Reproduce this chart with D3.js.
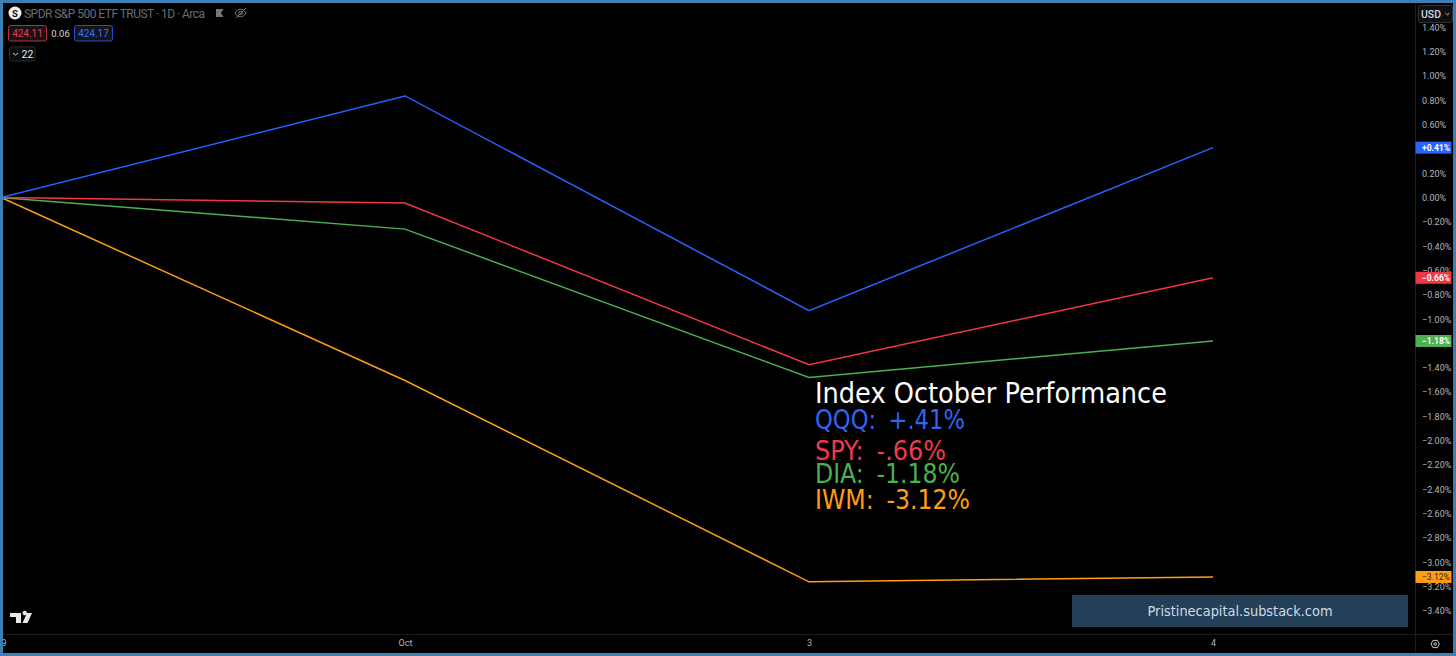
<!DOCTYPE html>
<html><head><meta charset="utf-8">
<script src="https://cdnjs.cloudflare.com/ajax/libs/d3/7.8.5/d3.min.js"></script>
<style>html,body{margin:0;padding:0;background:#000;overflow:hidden}svg{display:block}text{font-family:Roboto,sans-serif}</style>
</head><body><svg id="c" width="1456" height="656"></svg>
<script>
const categories = ["29", "Oct", "3", "4"];
const seriesNames = ["IWM", "DIA", "SPY", "QQQ"];
const iwm = [0, -1.505, -3.16, -3.12];
const dia = [0, -0.26, -1.48, -1.18];
const spy = [0, -0.045, -1.375, -0.66];
const qqq = [0, 0.835, -0.93, 0.41];
const seriesColors = ["#ff9d14", "#4caf50", "#f23645", "#2962ff"];
const priceTicks = [1.4,1.2,1.0,0.8,0.6,0.2,0,-0.2,-0.4,-0.6,-0.8,-1.0,-1.4,-1.6,-1.8,-2.0,-2.2,-2.4,-2.6,-2.8,-3.0,-3.2,-3.4];
const lastLabels = ["+0.41%", "\u22120.66%", "\u22121.18%", "\u22123.12%"];
const lastValues = [0.41, -0.66, -1.18, -3.12];
const lastColors = ["#2962ff", "#f23645", "#4caf50", "#ff9d14"];
const legendTitle = "Index October Performance";
const legendRows = ["QQQ: +.41%", "SPY: -.66%", "DIA: -1.18%", "IWM: -3.12%"];
const legendColors = ["#2f66f0", "#ef3a4c", "#4caf50", "#ff9d14"];
const headerTitle = "SPDR S&P 500 ETF TRUST \u00b7 1D \u00b7 Arca";
const footerText = "Pristinecapital.substack.com";

const svg = d3.select("#c");
const x = d3.scalePoint().domain(categories).range([1, 1213]);
const y = d3.scaleLinear().domain([0, -3.4]).range([197.5, 611]);
const defs = svg.append("defs");
defs.append("clipPath").attr("id","pane").append("rect").attr("x",3).attr("y",3).attr("width",1450).attr("height",650);

const root = svg.append("g").attr("clip-path","url(#pane)");
root.append("rect").attr("width",1456).attr("height",656).attr("fill","#000");

// pane separators
root.append("line").attr("x1",3).attr("x2",1453).attr("y1",634.5).attr("y2",634.5).attr("stroke","#1e1e1e");
root.append("line").attr("x1",1415.5).attr("x2",1415.5).attr("y1",3).attr("y2",653).attr("stroke","#1e1e1e");

// lines
const line = d3.line().x((d,i)=>x(categories[i])).y(d=>y(d));
[iwm, dia, spy, qqq].forEach((s,i)=>{
  root.append("path").datum(s).attr("d",line).attr("fill","none").attr("stroke",seriesColors[i]).attr("stroke-width",1.5);
});

// price axis
const fmt = v => (v<-1e-9?"\u2212":"") + Math.abs(v).toFixed(2) + "%";
const ay = root.append("g").attr("transform","translate(1415.5,0)")
  .call(d3.axisRight(y).tickValues(priceTicks).tickFormat(fmt).tickSize(0).tickPadding(0));
ay.select(".domain").remove();
ay.selectAll("text").attr("x",6.5).attr("text-anchor","start").attr("fill","#b2b5be").attr("font-size",9).attr("font-family","Roboto,sans-serif");

// time axis
const ax = root.append("g").attr("transform","translate(0,634.5)")
  .call(d3.axisBottom(x).tickSize(0).tickPadding(5));
ax.select(".domain").remove();
ax.selectAll("text").attr("fill","#b2b5be").attr("font-size",9).attr("font-family","Roboto,sans-serif");

// last value labels
const lab = root.append("g").selectAll("g").data(lastValues).join("g").attr("transform",d=>`translate(1415.5,${y(d)})`);
lab.append("rect").attr("x",0).attr("y",-6).attr("width",36).attr("height",12).attr("fill",(d,i)=>lastColors[i]);
lab.append("text").text((d,i)=>lastLabels[i]).attr("x",6.5).attr("dy","0.35em").attr("text-anchor","start").attr("font-size",8.5).attr("font-weight",(d,i)=>i==3?400:700).attr("fill",(d,i)=>i==3?"#222":"#fff");

// legend overlay
const lf = "'DejaVu Sans',sans-serif";
root.append("text").text(legendTitle).attr("x",815).attr("y",403).attr("font-size",28).attr("fill","#fff").attr("textLength",352).attr("lengthAdjust","spacingAndGlyphs").style("font-family",lf);
const legendY = [429, 460, 483, 509];
const legendW = [150, 131, 145, 155];
root.append("g").selectAll("text").data(legendRows).join("text").text(d=>d)
  .attr("x",815).attr("y",(d,i)=>legendY[i]).attr("font-size",27).attr("fill",(d,i)=>legendColors[i])
  .attr("word-spacing",6)
  .attr("textLength",(d,i)=>legendW[i]).attr("lengthAdjust","spacingAndGlyphs").style("font-family",lf);

// footer banner
root.append("rect").attr("x",1072).attr("y",595).attr("width",336).attr("height",32).attr("fill","#234058");
root.append("text").text(footerText).attr("x",1240).attr("y",616).attr("text-anchor","middle").attr("font-size",14).attr("fill","#cfdbe4").attr("textLength",185).attr("lengthAdjust","spacingAndGlyphs").style("font-family",lf);

// header
root.append("circle").attr("cx",15).attr("cy",13).attr("r",6.5).attr("fill","#f0f0f0");
root.append("text").text("S").attr("x",15).attr("y",16.5).attr("text-anchor","middle").attr("font-size",9.5).attr("font-weight",700).attr("fill","#111");
root.append("text").text(headerTitle).attr("x",24).attr("y",17.5).attr("font-size",12).attr("fill","#6a6d73").attr("textLength",181).attr("lengthAdjust","spacing");
root.append("path").attr("d","M216 9h7.5l-2.5 4l2.5 4h-7.5z").attr("fill","#74777d");
const eye = root.append("g").attr("fill","none").attr("stroke","#74777d").attr("stroke-width",1);
eye.append("path").attr("d","M235 13c3-5 8-5 11 0c-3 5-8 5-11 0z");
eye.append("circle").attr("cx",240.5).attr("cy",13).attr("r",1.8);
eye.append("path").attr("d","M236 18l10-10");

function box(bx,w,by,h,stroke,tx,col){
  root.append("rect").attr("x",bx+.5).attr("y",by+.5).attr("width",w).attr("height",h).attr("rx",2).attr("fill","#14141a").attr("stroke",stroke);
  root.append("text").text(tx).attr("x",bx+w/2+.5).attr("y",by+h/2+4).attr("text-anchor","middle").attr("font-size",10).attr("fill",col);
}
box(8,38,25,15.5,"#c22a3a","424.11","#ef3a4c");
root.append("text").text("0.06").attr("x",60.5).attr("y",36.5).attr("text-anchor","middle").attr("font-size",9.5).attr("fill","#d6d8dd");
box(74,38,25,15.5,"#2450c8","424.17","#3f72f5");
root.append("rect").attr("x",9.5).attr("y",47).attr("width",25.5).attr("height",14).attr("rx",2).attr("fill","#0c0c0e").attr("stroke","#2a2a2e");
root.append("path").attr("d","M13 53l2.5 2l2.5-2").attr("fill","none").attr("stroke","#d6d8dd");
root.append("text").text("22").attr("x",27.5).attr("y",57.5).attr("text-anchor","middle").attr("font-size",10.5).attr("fill","#e4e5e8");

// TV logo
root.append("path").attr("fill","#e8e8e8").attr("d","M10 613h11v10h-5v-6h-6zM22.5 613a2.2 2.2 0 1 1 0 .01zM27 613h5l-4.5 10h-5z");

// USD button
root.append("rect").attr("x",1418.5).attr("y",5.5).attr("width",34).attr("height",17).attr("rx",2).attr("fill","#0d0f14").attr("stroke","#2e3138");
root.append("text").text("USD").attr("x",1421).attr("y",17.5).attr("font-size",10.5).attr("font-weight",500).attr("fill","#d6d8dd");
root.append("path").attr("d","M1445.5 13l2 1.8l2-1.8").attr("fill","none").attr("stroke","#b2b5be");

// settings icon
root.append("path").attr("d","M1431 644l2-3.6h4.4l2 3.6l-2 3.6h-4.4z").attr("fill","none").attr("stroke","#c8cad0");
root.append("circle").attr("cx",1435.2).attr("cy",644).attr("r",1.3).attr("fill","none").attr("stroke","#c8cad0");

// frame
svg.append("rect").attr("x",1.5).attr("y",1.5).attr("width",1453).attr("height",653).attr("fill","none").attr("stroke","#3d7fb3").attr("stroke-width",3);
</script></body></html>
